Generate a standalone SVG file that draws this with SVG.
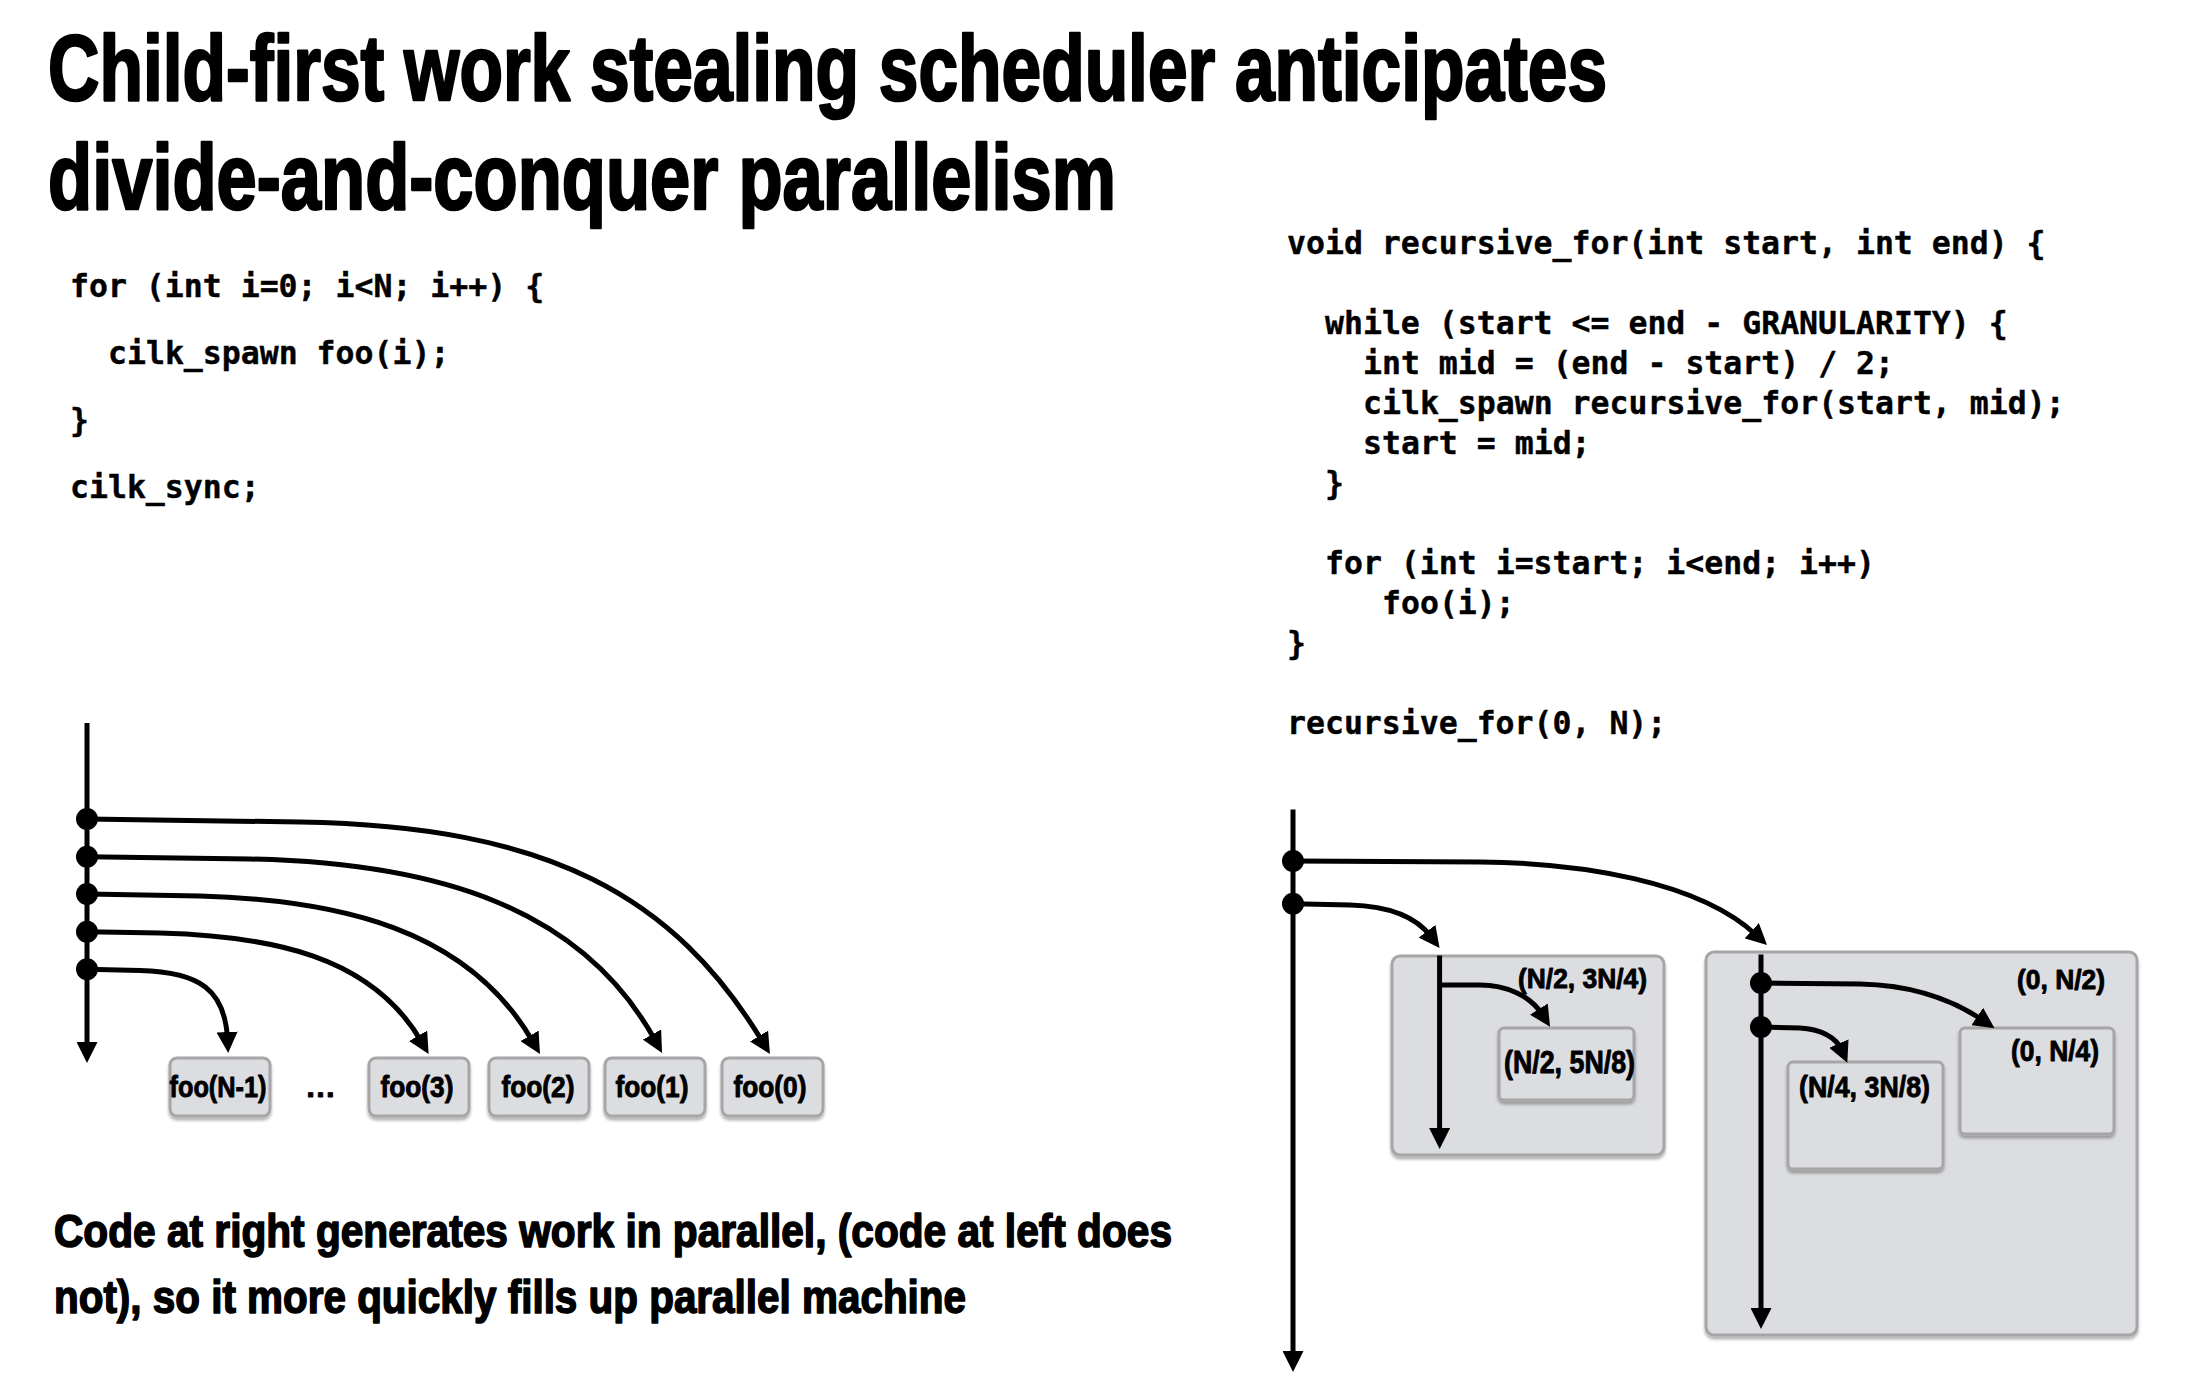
<svg xmlns="http://www.w3.org/2000/svg" width="2208" height="1398" viewBox="0 0 2208 1398">
<defs>
<style>
.hd{font-family:"Liberation Sans Narrow","Liberation Sans",Arial,sans-serif;font-weight:bold;fill:#000;stroke:#000;stroke-linejoin:round}
.t1{stroke-width:2.6px}
.t2{stroke-width:1.6px}
.t3{stroke-width:0.9px}
.code{font-family:"DejaVu Sans Mono","Liberation Mono",monospace;font-weight:bold;font-size:31.5px;fill:#000;stroke:#000;stroke-width:0.4px}
.box{fill:#dcdde0;stroke:#a6a6a6;stroke-width:3}
.ln{fill:none;stroke:#000;stroke-width:5}
.dot{fill:#000}
</style>
<marker id="ah" viewBox="0 0 21 21" refX="7" refY="10.5" markerWidth="21" markerHeight="21" markerUnits="userSpaceOnUse" orient="auto">
<path d="M0,0 L21,10.5 L0,21 z" fill="#000"/>
</marker>
<filter id="sh" x="-10%" y="-10%" width="120%" height="130%">
<feDropShadow dx="0" dy="3" stdDeviation="1.5" flood-color="#000" flood-opacity="0.3"/>
</filter>
</defs>
<rect width="2208" height="1398" fill="#fff"/>

<g id="title">
<text class="hd t1" x="48" y="100" font-size="92" textLength="1559" lengthAdjust="spacingAndGlyphs">Child-first work stealing scheduler anticipates</text>
<text class="hd t1" x="48" y="209" font-size="92" textLength="1068" lengthAdjust="spacingAndGlyphs">divide-and-conquer parallelism</text>
</g>

<g id="code-left">
<text class="code" x="70" y="297">for (int i=0; i&lt;N; i++) {</text>
<text class="code" x="108" y="364">cilk_spawn foo(i);</text>
<text class="code" x="70" y="431">}</text>
<text class="code" x="70" y="498">cilk_sync;</text>
</g>

<g id="code-right">
<text class="code" x="1287" y="254">void recursive_for(int start, int end) {</text>
<text class="code" x="1325" y="334">while (start &lt;= end - GRANULARITY) {</text>
<text class="code" x="1363" y="374">int mid = (end - start) / 2;</text>
<text class="code" x="1363" y="414">cilk_spawn recursive_for(start, mid);</text>
<text class="code" x="1363" y="454">start = mid;</text>
<text class="code" x="1325" y="494">}</text>
<text class="code" x="1325" y="574">for (int i=start; i&lt;end; i++)</text>
<text class="code" x="1382" y="614">foo(i);</text>
<text class="code" x="1287" y="654">}</text>
<text class="code" x="1287" y="734">recursive_for(0, N);</text>
</g>

<g id="foo-boxes">
<g id="foo-n-1"><rect class="box" filter="url(#sh)" x="170" y="1058" width="100" height="58" rx="7"/><text class="hd t3" x="218" y="1097" font-size="30" text-anchor="middle" textLength="97" lengthAdjust="spacingAndGlyphs">foo(N-1)</text></g>
<g id="ellipsis"><text class="hd t3" x="305" y="1097" font-size="30" textLength="31" lengthAdjust="spacingAndGlyphs">…</text></g>
<g id="foo-3"><rect class="box" filter="url(#sh)" x="369" y="1058" width="100" height="58" rx="7"/><text class="hd t3" x="417" y="1097" font-size="30" text-anchor="middle" textLength="73" lengthAdjust="spacingAndGlyphs">foo(3)</text></g>
<g id="foo-2"><rect class="box" filter="url(#sh)" x="489" y="1058" width="100" height="58" rx="7"/><text class="hd t3" x="538" y="1097" font-size="30" text-anchor="middle" textLength="73" lengthAdjust="spacingAndGlyphs">foo(2)</text></g>
<g id="foo-1"><rect class="box" filter="url(#sh)" x="605" y="1058" width="100" height="58" rx="7"/><text class="hd t3" x="652" y="1097" font-size="30" text-anchor="middle" textLength="73" lengthAdjust="spacingAndGlyphs">foo(1)</text></g>
<g id="foo-0"><rect class="box" filter="url(#sh)" x="722" y="1058" width="101" height="58" rx="7"/><text class="hd t3" x="770" y="1097" font-size="30" text-anchor="middle" textLength="73" lengthAdjust="spacingAndGlyphs">foo(0)</text></g>
</g>

<g id="range-boxes">
<g id="box-n2-3n4">
<rect class="box" filter="url(#sh)" x="1392" y="956" width="272" height="199" rx="8"/>
<text class="hd t3" x="1518" y="988" font-size="28" textLength="129" lengthAdjust="spacingAndGlyphs">(N/2, 3N/4)</text>
</g>
<g id="box-n2-5n8">
<rect class="box" filter="url(#sh)" x="1499" y="1028" width="135" height="72" rx="5"/>
<text class="hd t3" x="1504" y="1073" font-size="31" textLength="131" lengthAdjust="spacingAndGlyphs">(N/2, 5N/8)</text>
</g>
<g id="box-0-n2">
<rect class="box" filter="url(#sh)" x="1706" y="952" width="431" height="383" rx="8"/>
<text class="hd t3" x="2017" y="989" font-size="28" textLength="88" lengthAdjust="spacingAndGlyphs">(0, N/2)</text>
</g>
<g id="box-0-n4">
<rect class="box" filter="url(#sh)" x="1960" y="1028" width="154" height="106" rx="5"/>
<text class="hd t3" x="2011" y="1061" font-size="30" textLength="88" lengthAdjust="spacingAndGlyphs">(0, N/4)</text>
</g>
<g id="box-n4-3n8">
<rect class="box" filter="url(#sh)" x="1788" y="1062" width="155" height="107" rx="5"/>
<text class="hd t3" x="1799" y="1097" font-size="30" textLength="131" lengthAdjust="spacingAndGlyphs">(N/4, 3N/8)</text>
</g>
</g>

<g id="connectors">
<path class="ln" marker-end="url(#ah)" d="M87,723 L87,1049"/>
<path class="ln" marker-end="url(#ah)" d="M87,819 L300,822 C550,826 674.6,896.6 762.7,1042"/>
<path class="ln" marker-end="url(#ah)" d="M87,856.7 L250,859 C440,863 583,909 655.3,1040.7"/>
<path class="ln" marker-end="url(#ah)" d="M87,894 L200,896 C340,900 468,929 533,1041.9"/>
<path class="ln" marker-end="url(#ah)" d="M87,931.7 L160,933 C270,936 371.6,955.3 421.6,1041.9"/>
<path class="ln" marker-end="url(#ah)" d="M87,969.3 L140,970.5 C200,972 225,990 227.5,1039"/>

<path class="ln" marker-end="url(#ah)" d="M1293,809.5 L1293,1358"/>
<path class="ln" marker-end="url(#ah)" d="M1293,861 L1480,862 C1580,863 1698.4,881 1756.8,935.5"/>
<path class="ln" marker-end="url(#ah)" d="M1293,903.7 L1350,905 C1385,906 1415,915 1431.2,936.8"/>
<path class="ln" marker-end="url(#ah)" d="M1439.6,955.6 L1439.6,1135"/>
<path class="ln" marker-end="url(#ah)" d="M1439.6,985 L1480,985 C1505,985 1530,995 1542.6,1015"/>
<path class="ln" marker-end="url(#ah)" d="M1761,954.5 L1761,1315"/>
<path class="ln" marker-end="url(#ah)" d="M1761,983 L1860,984 C1910,985 1950,998 1983,1020.4"/>
<path class="ln" marker-end="url(#ah)" d="M1761,1027 L1800,1028 C1820,1029 1836,1037 1841.7,1050"/>
</g>

<g id="spawn-points">
<circle class="dot" cx="87" cy="819" r="11"/>
<circle class="dot" cx="87" cy="856.7" r="11"/>
<circle class="dot" cx="87" cy="894" r="11"/>
<circle class="dot" cx="87" cy="931.7" r="11"/>
<circle class="dot" cx="87" cy="969.3" r="11"/>
<circle class="dot" cx="1293" cy="861" r="11"/>
<circle class="dot" cx="1293" cy="903.7" r="11"/>
<circle class="dot" cx="1761" cy="983" r="11"/>
<circle class="dot" cx="1761" cy="1027" r="11"/>
</g>

<g id="caption">
<text class="hd t2" x="54" y="1247" font-size="47" textLength="1118" lengthAdjust="spacingAndGlyphs">Code at right generates work in parallel, (code at left does</text>
<text class="hd t2" x="54" y="1313" font-size="47" textLength="912" lengthAdjust="spacingAndGlyphs">not), so it more quickly fills up parallel machine</text>
</g>
</svg>
